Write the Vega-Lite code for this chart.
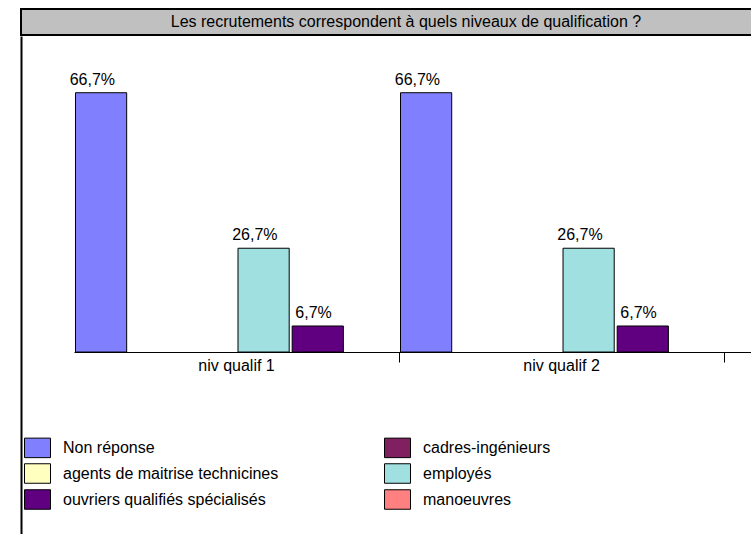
{
  "$schema": "https://vega.github.io/schema/vega-lite/v6.json",
  "padding": {"left": 20, "top": 8, "right": 0, "bottom": 0},
  "background": "white",
  "spacing": 0,
  "config": {
    "font": "Liberation Sans",
    "locale": {"number": {"decimal": ",", "thousands": " ", "grouping": [3], "currency": ["", " €"]}},
    "view": {"stroke": null},
    "concat": {"spacing": 0}
  },
  "vconcat": [
    {
      "width": 770,
      "height": 26,
      "view": {"fill": "#C0C0C0", "stroke": "black", "strokeWidth": 2},
      "data": {"values": [{"titre": "Les recrutements correspondent à quels niveaux de qualification ?"}]},
      "mark": {"type": "text", "fontSize": 16, "color": "black", "baseline": "middle", "align": "center", "font": "Liberation Sans"},
      "encoding": {"text": {"field": "titre", "type": "nominal"}}
    },
    {
      "width": 770,
      "height": 498,
      "view": {"stroke": null, "fill": "white"},
      "data": {"values": [
        {"niveau": "niv qualif 1", "categorie": "Non réponse", "part": 0.667},
        {"niveau": "niv qualif 1", "categorie": "employés", "part": 0.267},
        {"niveau": "niv qualif 1", "categorie": "ouvriers qualifiés spécialisés", "part": 0.067},
        {"niveau": "niv qualif 2", "categorie": "Non réponse", "part": 0.667},
        {"niveau": "niv qualif 2", "categorie": "employés", "part": 0.267},
        {"niveau": "niv qualif 2", "categorie": "ouvriers qualifiés spécialisés", "part": 0.067}
      ]},
      "encoding": {
        "x": {
          "field": "niveau", "type": "nominal",
          "scale": {"range": [53, 770], "paddingInner": 0, "paddingOuter": 0.103, "align": 0},
          "axis": {
            "title": null, "orient": "bottom", "offset": -182,
            "domainColor": "black", "domainWidth": 1,
            "tickColor": "black", "tickWidth": 1, "tickSize": 10, "bandPosition": 1,
            "labelAngle": 0, "labelFontSize": 16, "labelColor": "black", "labelPadding": -5,
            "labelFont": "Liberation Sans", "grid": false
          }
        },
        "xOffset": {
          "field": "categorie", "type": "nominal",
          "scale": {"domain": ["Non réponse", "cadres-ingénieurs", "agents de maitrise technicines", "employés", "ouvriers qualifiés spécialisés", "manoeuvres"], "paddingInner": 0.055, "paddingOuter": 0.0275}
        },
        "y": {
          "field": "part", "type": "quantitative",
          "scale": {"domain": [-0.468, 0.8129], "nice": false, "zero": false},
          "axis": {"title": null, "ticks": false, "labels": false, "grid": false, "domainColor": "black", "domainWidth": 2}
        }
      },
      "layer": [
        {
          "mark": {"type": "bar", "stroke": "black", "strokeWidth": 1, "opacity": 1},
          "encoding": {
            "color": {
              "field": "categorie", "type": "nominal",
              "scale": {
                "domain": ["Non réponse", "cadres-ingénieurs", "agents de maitrise technicines", "employés", "ouvriers qualifiés spécialisés", "manoeuvres"],
                "range": ["#8080FF", "#802060", "#FFFFC0", "#A0E0E0", "#600080", "#FF8080"]
              },
              "legend": {
                "orient": "none", "legendX": 3, "legendY": 425,
                "columns": 2, "direction": "horizontal", "title": null,
                "symbolType": "M-1,-0.75H1V0.75H-1Z", "symbolSize": 676,
                "symbolStrokeColor": "black", "symbolStrokeWidth": 1, "symbolOpacity": 1,
                "labelFontSize": 16, "labelColor": "black", "labelFont": "Liberation Sans",
                "labelOffset": 12, "labelLimit": 400,
                "rowPadding": 0, "columnPadding": 103, "padding": 0
              }
            }
          }
        },
        {
          "mark": {"type": "text", "align": "right", "baseline": "alphabetic", "dx": 14, "dy": -8, "fontSize": 16, "color": "black", "font": "Liberation Sans"},
          "encoding": {"text": {"field": "part", "type": "quantitative", "format": ".1%"}}
        }
      ]
    }
  ]
}
